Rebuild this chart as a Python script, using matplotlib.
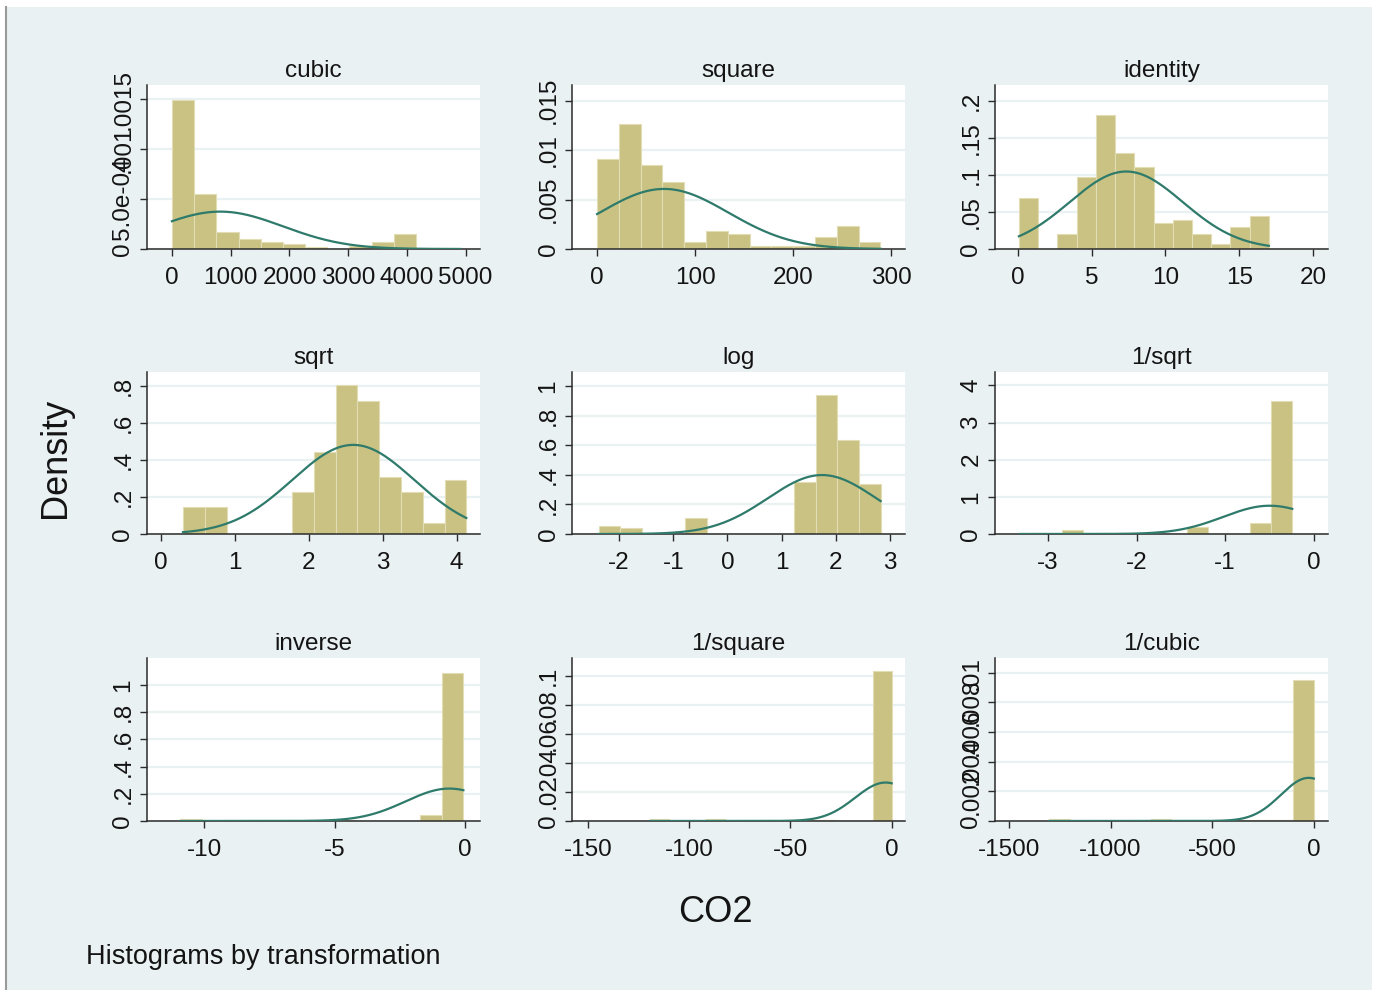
import numpy as np
import matplotlib.pyplot as plt
from matplotlib.patches import Rectangle
from matplotlib.lines import Line2D

plt.rcParams['font.family'] = ['Liberation Sans', 'DejaVu Sans']
plt.rcParams['axes.unicode_minus'] = False

# panel titles (Stata gladder output for CO2)
titles = ["cubic", "square", "identity", "sqrt", "log", "1/sqrt", "inverse", "1/square", "1/cubic"]

# histogram range (first bin start, last bin end), 13 bins each
bin_lo = [0.0, 0.0, 0.09, 0.297, -2.38, -3.32, -10.92, -119.2, -1301.0]
bin_hi = [4910.0, 289.0, 17.0, 4.13, 2.83, -0.242, -0.0585, -0.0035, -0.0002]

# bar heights (density)
h_cubic = [0.001493, 0.000551, 0.000174, 0.000104, 0.0000735, 0.0000468, 0.0000234,
           0.0, 0.00003, 0.0000735, 0.000147, 0.000005, 0.000005]
h_square = [0.00909, 0.01266, 0.00849, 0.00675, 0.00067, 0.0018, 0.00147,
            0.00033, 0.00033, 0.00033, 0.00124, 0.00234, 0.00067]
h_identity = [0.0686, 0.0, 0.020, 0.0967, 0.181, 0.129, 0.111,
              0.0356, 0.0396, 0.020, 0.0062, 0.0298, 0.0445]
h_sqrt = [0.145, 0.145, 0.0, 0.0, 0.0, 0.226, 0.443, 0.805, 0.719, 0.311, 0.226, 0.058, 0.293]
h_log = [0.056, 0.043, 0.0, 0.0, 0.110, 0.0, 0.0, 0.0, 0.0, 0.353, 0.942, 0.638, 0.335]
h_isqrt = [0.03, 0.0, 0.107, 0.0, 0.03, 0.0, 0.0, 0.0, 0.179, 0.0, 0.0, 0.286, 3.57]
h_inverse = [0.014, 0.0, 0.007, 0.007, 0.007, 0.007, 0.0, 0.007, 0.0, 0.0, 0.0, 0.044, 1.088]
h_isquare = [0.0013, 0.0, 0.0, 0.0013, 0.0, 0.0, 0.0006, 0.0006, 0.0006, 0.0006, 0.0, 0.0, 0.1035]
h_icubic = [0.00012, 0.0, 0.0, 0.0, 0.0, 0.00012, 0.0, 0.0, 0.00006, 0.00006, 0.00006, 0.00006, 0.0095]
bar_heights = [h_cubic, h_square, h_identity, h_sqrt, h_log, h_isqrt, h_inverse, h_isquare, h_icubic]

# normal density overlay: mean and sd of each transformed variable
norm_mean = [822.0, 68.3, 7.35, 2.60, 1.748, -0.497, -0.596, -3.0, -25.0]
norm_sd = [1067.0, 65.6, 3.82, 0.826, 1.002, 0.524, 1.675, 15.0, 137.0]

# tick values and labels
xtick_vals = [[0, 1000, 2000, 3000, 4000, 5000], [0, 100, 200, 300], [0, 5, 10, 15, 20],
              [0, 1, 2, 3, 4], [-2, -1, 0, 1, 2, 3], [-3, -2, -1, 0],
              [-10, -5, 0], [-150, -100, -50, 0], [-1500, -1000, -500, 0]]
ytick_vals = [[0, 0.0005, 0.001, 0.0015], [0, 0.005, 0.01, 0.015], [0, 0.05, 0.1, 0.15, 0.2],
              [0, 0.2, 0.4, 0.6, 0.8], [0, 0.2, 0.4, 0.6, 0.8, 1], [0, 1, 2, 3, 4],
              [0, 0.2, 0.4, 0.6, 0.8, 1], [0, 0.02, 0.04, 0.06, 0.08, 0.1],
              [0, 0.002, 0.004, 0.006, 0.008, 0.01]]
ytick_labels = [["0", "5.0e-04", ".001", ".0015"], ["0", ".005", ".01", ".015"],
                ["0", ".05", ".1", ".15", ".2"], ["0", ".2", ".4", ".6", ".8"],
                ["0", ".2", ".4", ".6", ".8", "1"], ["0", "1", "2", "3", "4"],
                ["0", ".2", ".4", ".6", ".8", "1"], ["0", ".02", ".04", ".06", ".08", ".1"],
                ["0", ".002", ".004", ".006", ".008", ".01"]]

# axis ranges
xlims = [(-425, 5244), (-25.6, 314), (-1.53, 21.0), (-0.19, 4.315), (-2.87, 3.28),
         (-3.6, 0.162), (-12.2, 0.58), (-157.9, 6.6), (-1569, 70)]
ytops = [0.00164, 0.0166, 0.221, 0.878, 1.094, 4.36, 1.197, 0.1127, 0.011]

W, H = 1376, 990
BG = '#eaf1f3'
BAR = '#c9c283'
LINE = '#2e7a6b'
AX = '#2b2b2b'
TXT = '#141414'

fig = plt.figure(figsize=(W / 100, H / 100), dpi=100)
fig.patch.set_facecolor('white')
fig.add_artist(Rectangle((7 / W, 0), (1372 - 7) / W, (H - 7) / H, transform=fig.transFigure,
                         facecolor=BG, edgecolor='none', zorder=-10))
fig.add_artist(Line2D([6 / W, 6 / W], [0, (H - 7) / H], transform=fig.transFigure,
                      color='#9a9a9a', lw=1.5))

col_left = [147, 572, 995]
row_top = [85, 372, 658]
row_bot = [249, 534, 821]
pw = 333

for i in range(9):
    r, c = divmod(i, 3)
    ax = fig.add_axes([col_left[c] / W, 1 - row_bot[r] / H, pw / W, (row_bot[r] - row_top[r]) / H])
    ax.set_facecolor('white')

    edges = np.linspace(bin_lo[i], bin_hi[i], len(bar_heights[i]) + 1)
    ax.bar(edges[:-1], bar_heights[i], width=np.diff(edges), align='edge',
           color=BAR, edgecolor='#e2ddb5', linewidth=0.8, zorder=2)

    xs = np.linspace(bin_lo[i], bin_hi[i], 300)
    m, s = norm_mean[i], norm_sd[i]
    ys = np.exp(-0.5 * ((xs - m) / s) ** 2) / (s * np.sqrt(2 * np.pi))
    ax.plot(xs, ys, color=LINE, lw=1.6, zorder=3)

    ax.set_xlim(*xlims[i])
    ax.set_ylim(0, ytops[i])
    ax.set_xticks(xtick_vals[i])
    ax.set_xticklabels([f"{v:g}" for v in xtick_vals[i]])
    ax.set_yticks(ytick_vals[i])
    ax.set_yticklabels(ytick_labels[i], rotation=90, va='center')

    ax.yaxis.grid(True, color=BG, lw=1.6)
    ax.set_axisbelow(True)
    for side in ['top', 'right']:
        ax.spines[side].set_visible(False)
    for side in ['left', 'bottom']:
        ax.spines[side].set_color(AX)
        ax.spines[side].set_linewidth(1.1)
    ax.tick_params(direction='out', length=5, width=1, colors=AX, labelcolor=TXT,
                   labelsize=17.5)
    ax.tick_params(axis='x', pad=8)
    ax.tick_params(axis='y', pad=4)
    ax.set_title(titles[i], fontsize=17.5, color=TXT, pad=5.8)

fig.text(55 / W, 1 - 458 / H, "Density", rotation=90, fontsize=26, color=TXT,
         ha='center', va='center')
fig.text(715 / W, 1 - 913 / H, "CO2", fontsize=26, color=TXT, ha='center', va='center')
fig.text(86 / W, 1 - 957 / H, "Histograms by transformation", fontsize=19.5, color=TXT,
         ha='left', va='center')

fig.savefig('out.png', dpi=100)
